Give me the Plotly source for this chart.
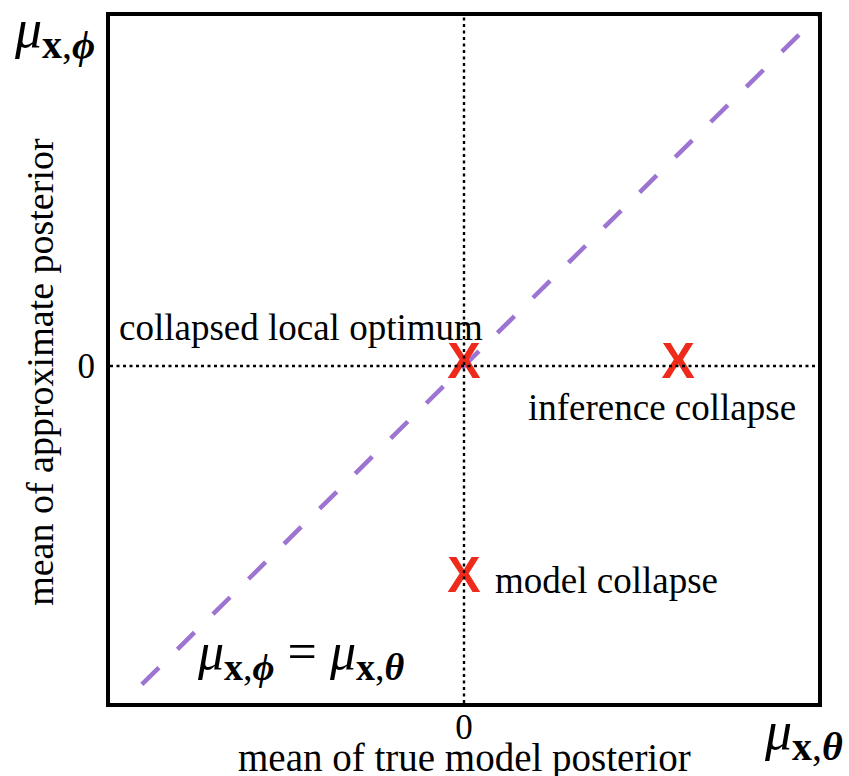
import plotly.graph_objects as go

# --- data ---
diag_x = [-0.91, 1.01]
diag_y = [-0.91, 1.01]
vline_x = [0, 0]
vline_y = [-0.963, 1.0]
hline_x = [-1.0, 1.0]
hline_y = [0, 0]
points_x = [0.0, 0.605, 0.0]
points_y = [0.0, 0.0, -0.61]
point_marks = ["X", "X", "X"]
point_labels = ["collapsed local optimum", "inference collapse", "model collapse"]
tick_vals = [0]
tick_text = ["0"]

FONT = "Liberation Serif"
fig = go.Figure()

fig.add_trace(go.Scatter(x=diag_x, y=diag_y, mode="lines",
                         line=dict(color="#9d74d1", width=4.5, dash="24px,26px"),
                         hoverinfo="skip", showlegend=False))
fig.add_trace(go.Scatter(x=points_x, y=points_y, mode="text", text=point_marks,
                         textposition="middle center",
                         textfont=dict(family="Liberation Sans", size=50, color="#ee2a1b",
                                       weight="bold"),
                         showlegend=False, cliponaxis=False))
fig.add_trace(go.Scatter(x=vline_x, y=vline_y, mode="lines",
                         line=dict(color="black", width=2.4, dash="3px,3.5px"),
                         hoverinfo="skip", showlegend=False))
fig.add_trace(go.Scatter(x=hline_x, y=hline_y, mode="lines",
                         line=dict(color="black", width=2.4, dash="3px,3.5px"),
                         hoverinfo="skip", showlegend=False))


def mu(sym, sub_px):
    return ("<i>μ</i><sub><span style='font-size:%dpx'><b>x</b>,<b><i>%s</i></b></span></sub>"
            % (sub_px, sym))


def A(x, y, text, size, xref="x", yref="y", xanchor="center", angle=0):
    return dict(x=x, y=y, xref=xref, yref=yref, text=text, xanchor=xanchor,
                yanchor="middle", textangle=angle, showarrow=False,
                font=dict(family=FONT, size=size, color="black"))


ann = [
    A(-0.46, 0.109, point_labels[0], 37),
    A(0.56, -0.12, point_labels[1], 37),
    A(0.082, -0.614, point_labels[2], 37, xanchor="left"),
    A(-0.46, -0.826, mu("ϕ", 38) + " = " + mu("θ", 38), 52),
    A(-0.0777, 0.975, mu("ϕ", 40), 54, xref="paper", yref="paper"),
    A(0.979, -0.0466, mu("θ", 40), 54, xref="paper", yref="paper"),
    A(0.5, -0.08, "mean of true model posterior", 39, xref="paper", yref="paper"),
    A(-0.0989, 0.482, "mean of approximate posterior", 38, xref="paper", yref="paper", angle=-90),
]

axis_common = dict(showgrid=False, zeroline=False, showline=True, mirror=True,
                   linewidth=4, linecolor="black", tickvals=tick_vals, ticktext=tick_text,
                   ticks="", ticklen=0,
                   tickfont=dict(size=35, family=FONT, color="black"))

fig.update_layout(
    width=849, height=776,
    margin=dict(l=110, r=31, t=16, b=73),
    paper_bgcolor="white", plot_bgcolor="white",
    font=dict(family=FONT, color="black"),
    annotations=ann,
    xaxis=dict(range=[-1, 1], ticklabelstandoff=-10, **axis_common),
    yaxis=dict(range=[-0.963, 1], ticklabelstandoff=4, **axis_common),
)

fig.write_html("out.html")
